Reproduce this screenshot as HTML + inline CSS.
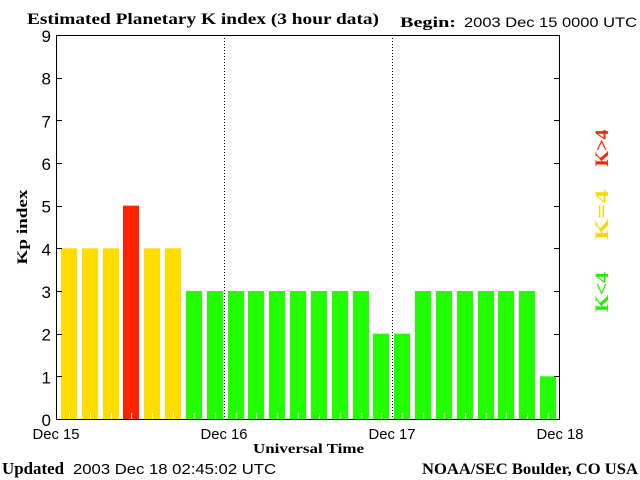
<!DOCTYPE html>
<html><head><meta charset="utf-8"><style>
body{margin:0;background:#fff;}
svg{display:block;}
.serif{font-family:"Liberation Serif",serif;font-weight:bold;}
.sans{font-family:"Liberation Sans",sans-serif;}
</style></head><body>
<svg id="chart" width="640" height="480" xmlns="http://www.w3.org/2000/svg">
<text x="27" y="24" class="serif" font-size="16" textLength="352" lengthAdjust="spacingAndGlyphs">Estimated Planetary K index (3 hour data)</text>
<text x="400" y="27" class="serif" font-size="15" textLength="56" lengthAdjust="spacingAndGlyphs">Begin:</text>
<text x="464" y="27" class="sans" font-size="14" textLength="173" lengthAdjust="spacingAndGlyphs">2003 Dec 15 0000 UTC</text>
<text x="2" y="474" class="serif" font-size="17" textLength="62" lengthAdjust="spacingAndGlyphs">Updated</text>
<text x="73" y="474" class="sans" font-size="15" textLength="203" lengthAdjust="spacingAndGlyphs">2003 Dec 18 02:45:02 UTC</text>
<text x="422" y="474" class="serif" font-size="16" textLength="216" lengthAdjust="spacingAndGlyphs">NOAA/SEC Boulder, CO USA</text>
<text x="253" y="453" class="serif" font-size="14" textLength="111" lengthAdjust="spacingAndGlyphs">Universal Time</text>
<text transform="translate(27,227) rotate(-90)" class="serif" font-size="15" text-anchor="middle" textLength="75" lengthAdjust="spacingAndGlyphs">Kp index</text>
<text transform="translate(608,148) rotate(-90)" class="serif" font-size="19" fill="#ff2200" text-anchor="middle" textLength="37" lengthAdjust="spacingAndGlyphs">K&gt;4</text>
<text transform="translate(608,215) rotate(-90)" class="serif" font-size="19" fill="#ffd700" text-anchor="middle" textLength="50" lengthAdjust="spacingAndGlyphs">K=4</text>
<text transform="translate(608,292) rotate(-90)" class="serif" font-size="19" fill="#22ee00" text-anchor="middle" textLength="40" lengthAdjust="spacingAndGlyphs">K&lt;4</text>
<g id="marks"></g>
</svg>
<script>
const kpValues=[4,4,4,5,4,4,3,3,3,3,3,3,3,3,3,2,2,3,3,3,3,3,3,1];
const yTicks=[0,1,2,3,4,5,6,7,8,9];
const dayLabels=["Dec 15","Dec 16","Dec 17","Dec 18"];
const NS="http://www.w3.org/2000/svg";
const L=56,R=560,T=35,B=419,slots=24;
const slotW=(R-L)/slots;
const barStep=479/23;
function xs(i){return L+i*slotW;}
function xb(i){return 61+i*barStep;}
function ys(v){return B-v*(B-T)/9;}
const g=document.getElementById('marks');
function mk(t,a){const e=document.createElementNS(NS,t);for(const k in a)e.setAttribute(k,a[k]);g.appendChild(e);return e;}
kpValues.forEach((v,i)=>{
  const col=v>4?"#ff2200":(v==4?"#ffdd00":"#22ff00");
  const x=Math.round(xb(i));
  const b=mk('rect',{x:x,y:ys(v),width:16,height:B-ys(v),fill:col});
  
  
  const t=mk('line',{x1:x+8.5,x2:x+8.5,y1:B-6,y2:B,stroke:"#fff","stroke-width":1});
  
  
});
[1,2].forEach(d=>{
  const l=mk('line',{x1:xs(d*8)+0.5,x2:xs(d*8)+0.5,y1:T,y2:B,stroke:"#000","stroke-dasharray":"1,2"});
  
  
});
const ax=mk('rect',{x:L+0.5,y:T+0.5,width:R-L-1,height:B-T,fill:"none",stroke:"#000","stroke-width":1});


yTicks.forEach(v=>{
  const y=Math.round(ys(v))+0.5;
  const t=mk('line',{x1:L,x2:L+6,y1:y,y2:y,stroke:"#000"});
  
  
  const t2=mk('line',{x1:R-6,x2:R,y1:y,y2:y,stroke:"#000"});
  
  
  const lb=mk('text',{x:L-5,y:ys(v)+7,"text-anchor":"end","font-size":"17","class":"sans"});
  lb.textContent=v;
  
  
});
dayLabels.forEach((s,d)=>{
  const lb=mk('text',{x:xs(d*8),y:439,"text-anchor":"middle","font-size":"15","class":"sans",textLength:"47",lengthAdjust:"spacingAndGlyphs"});
  lb.textContent=s;
  
  
});
</script>
</body></html>
